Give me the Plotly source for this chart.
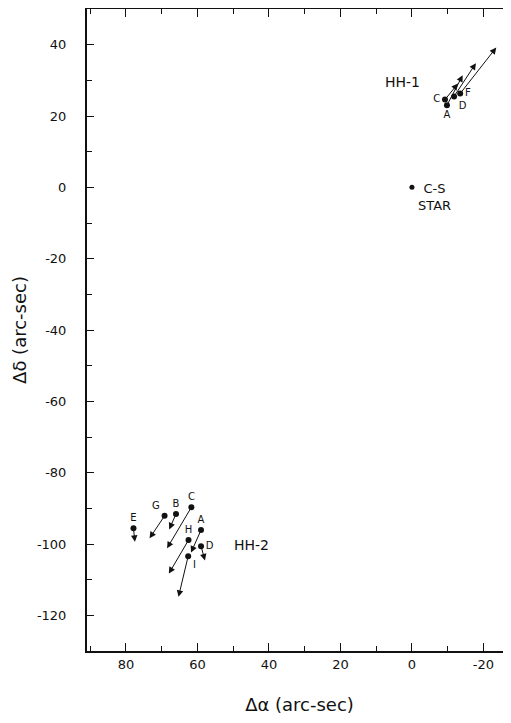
import plotly.graph_objects as go

# ---- data (arc-sec offsets from the C-S star) ----
hh1_knots = ["C", "A", "D", "F"]
hh1_ra = [-9.25, -9.8, -11.8, -13.5]
hh1_dec = [24.6, 23.0, 25.5, 26.3]
hh1_tip_ra = [-12.9, -14.2, -17.9, -23.6]
hh1_tip_dec = [29.1, 31.4, 34.8, 39.2]

hh2_knots = ["E", "G", "B", "C", "A", "H", "D", "I"]
hh2_ra = [77.9, 69.2, 66.0, 61.7, 59.0, 62.5, 59.0, 62.6]
hh2_dec = [-95.6, -92.1, -91.6, -89.7, -96.1, -98.9, -100.6, -103.4]
hh2_tip_ra = [77.5, 73.4, 67.9, 68.5, 61.8, 68.0, 57.9, 65.3]
hh2_tip_dec = [-99.4, -98.4, -95.9, -101.2, -102.4, -108.3, -104.6, -114.8]

star_ra = [0.0]
star_dec = [0.0]

x_ticks = [80, 60, 40, 20, 0, -20]
y_ticks = [40, 20, 0, -20, -40, -60, -80, -100, -120]

FONT = "DejaVu Sans"
INK = "#111111"

fig = go.Figure()

hh1_pos = ["middle left", "bottom center", "bottom right", "middle right"]
hh2_pos = ["top center", "top left", "top center", "top center", "top center",
           "top center", "middle right", "bottom right"]

fig.add_trace(go.Scatter(
    x=hh1_ra, y=hh1_dec, mode="markers+text", text=hh1_knots,
    textposition=hh1_pos, textfont=dict(family=FONT, size=10, color=INK),
    marker=dict(color=INK, size=6), showlegend=False, hoverinfo="skip"))
fig.add_trace(go.Scatter(
    x=hh2_ra, y=hh2_dec, mode="markers+text", text=hh2_knots,
    textposition=hh2_pos, textfont=dict(family=FONT, size=10, color=INK),
    marker=dict(color=INK, size=6), showlegend=False, hoverinfo="skip"))
fig.add_trace(go.Scatter(
    x=star_ra, y=star_dec, mode="markers",
    marker=dict(color=INK, size=5), showlegend=False, hoverinfo="skip"))
# invisible trace for the right-hand tick axis
fig.add_trace(go.Scatter(x=star_ra, y=star_dec, yaxis="y2", mode="markers",
                         marker=dict(opacity=0), showlegend=False, hoverinfo="skip"))

annotations = []
for xs, ys, xt, yt in zip(hh1_ra + hh2_ra, hh1_dec + hh2_dec,
                          hh1_tip_ra + hh2_tip_ra, hh1_tip_dec + hh2_tip_dec):
    annotations.append(dict(
        x=xt, y=yt, ax=xs, ay=ys, xref="x", yref="y", axref="x", ayref="y",
        text="", showarrow=True, arrowhead=2, arrowsize=1.3, arrowwidth=1,
        arrowcolor=INK, standoff=0, startstandoff=0))

annotations += [
    dict(x=2.5, y=29.4, xref="x", yref="y", text="HH-1", showarrow=False,
         font=dict(family=FONT, size=14, color=INK)),
    dict(x=44.9, y=-100.3, xref="x", yref="y", text="HH-2", showarrow=False,
         font=dict(family=FONT, size=14, color=INK)),
    dict(x=star_ra[0], y=star_dec[0], xref="x", yref="y", text="C-S<br>STAR",
         showarrow=False, xanchor="left", yanchor="top", align="center",
         xshift=4, yshift=8, font=dict(family=FONT, size=13, color=INK)),
]

fig.update_layout(
    width=504, height=715,
    margin=dict(l=79, r=0, t=1, b=72, autoexpand=False),
    paper_bgcolor="white", plot_bgcolor="white",
    font=dict(family=FONT, size=13, color=INK),
    annotations=annotations,
    showlegend=False,
    xaxis=dict(
        range=[90.9, -28.0], showgrid=False, zeroline=False, automargin=False,
        showline=True, linecolor=INK, linewidth=2, mirror="ticks",
        tickvals=x_ticks, ticktext=[str(v) for v in x_ticks],
        ticks="inside", ticklen=8, tickwidth=1.3, tickcolor=INK,
        minor=dict(dtick=10, ticks="inside", ticklen=5, tickwidth=1, tickcolor=INK),
        tickfont=dict(family=FONT, size=13, color=INK),
        ticklabelstandoff=0,
        title=dict(text="Δα (arc-sec)", font=dict(family=FONT, size=18, color=INK),
                   standoff=28),
    ),
    yaxis=dict(
        range=[-130, 50], showgrid=False, zeroline=False, automargin=False,
        showline=True, linecolor=INK, linewidth=2, mirror=False,
        tickvals=y_ticks, ticktext=[str(v) for v in y_ticks],
        ticks="inside", ticklen=7, tickwidth=1.3, tickcolor=INK,
        minor=dict(dtick=10, ticks="inside", ticklen=5, tickwidth=1, tickcolor=INK),
        tickfont=dict(family=FONT, size=13, color=INK),
        ticklabelstandoff=16,
        title=dict(text="Δδ (arc-sec)", font=dict(family=FONT, size=18, color=INK),
                   standoff=6),
    ),
    yaxis2=dict(
        range=[-130, 50], overlaying="y", side="right", showgrid=False,
        zeroline=False, showline=False, showticklabels=False, automargin=False,
        tickvals=y_ticks, ticks="inside", ticklen=6, tickwidth=1.3, tickcolor=INK,
    ),
)

fig.write_html("out.html")
